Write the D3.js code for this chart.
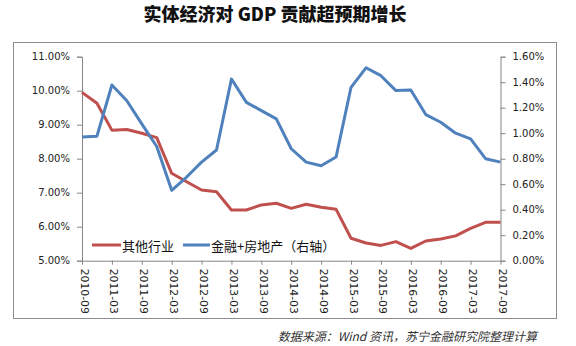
<!DOCTYPE html>
<html><head><meta charset="utf-8">
<script src="https://cdn.jsdelivr.net/npm/d3@7"></script>
<style>
html,body{margin:0;padding:0;background:#fff;}
svg{display:block;}
</style></head>
<body>
<svg id="c" width="576" height="346"></svg>
<script>
const categories = ["2010-09","2010-12","2011-03","2011-06","2011-09","2011-12","2012-03","2012-06","2012-09","2012-12",
"2013-03","2013-06","2013-09","2013-12","2014-03","2014-06","2014-09","2014-12","2015-03","2015-06",
"2015-09","2015-12","2016-03","2016-06","2016-09","2016-12","2017-03","2017-06","2017-09"];
const tickLabels = ["2010-09","2011-03","2011-09","2012-03","2012-09","2013-03","2013-09","2014-03","2014-09","2015-03","2015-09","2016-03","2016-09","2017-03","2017-09"];
const otherIndustry = [9.95,9.63,8.84,8.86,8.75,8.62,7.57,7.32,7.08,7.03,6.49,6.49,6.64,6.69,6.54,6.66,6.57,6.51,5.66,5.52,5.45,5.56,5.36,5.58,5.64,5.73,5.95,6.13,6.13];
const financeRealEstate = [0.97,0.977,1.378,1.255,1.073,0.896,0.552,0.656,0.773,0.868,1.425,1.242,1.177,1.112,0.878,0.773,0.745,0.813,1.36,1.513,1.451,1.334,1.339,1.146,1.086,1.0,0.956,0.80,0.773];
const leftTicks = [5,6,7,8,9,10,11];
const rightTicks = [0,0.2,0.4,0.6,0.8,1.0,1.2,1.4,1.6];
const seriesNames = ["其他行业","金融+房地产（右轴）"];
const title = "实体经济对 GDP 贡献超预期增长";
const source = "数据来源：Wind 资讯，苏宁金融研究院整理计算";

const svg = d3.select("#c");
const red = "#C0504D", blue = "#4F81BD", axisColor = "#868686";
const L = 82, R = 500.5, T = 56.7, B = 260.7;
const font = "'DejaVu Sans', Verdana, sans-serif";
const cjk = "'Noto Sans CJK SC', sans-serif";

// outer border
svg.append("rect").attr("x",13.5).attr("y",42.5).attr("width",543).attr("height",276)
  .attr("fill","none").attr("stroke","#8c8c8c").attr("stroke-width",1);

// title
svg.append("text").attr("x",275).attr("y",21).attr("text-anchor","middle")
  .attr("font-family",cjk).attr("font-weight",900).attr("font-size",18).attr("fill","#111")
  .text(title);

const x = d3.scalePoint().domain(categories).range([L, R]);
const yL = d3.scaleLinear().domain([5,11]).range([B,T]);
const yR = d3.scaleLinear().domain([0,1.6]).range([B,T]);

const fmt = v => d3.format(".2f")(v) + "%";

const gL = svg.append("g").attr("transform",`translate(${L},0)`)
  .call(d3.axisLeft(yL).tickValues(leftTicks).tickFormat(fmt).tickSize(5).tickPadding(7));
const gR = svg.append("g").attr("transform",`translate(${R},0)`)
  .call(d3.axisRight(yR).tickValues(rightTicks).tickFormat(fmt).tickSize(5).tickPadding(7));
const gX = svg.append("g").attr("transform",`translate(0,${B})`)
  .call(d3.axisBottom(x).tickValues(tickLabels).tickSize(4).tickPadding(4));

[gL,gR,gX].forEach(g=>{
  g.select(".domain").attr("stroke",axisColor).attr("stroke-width",1);
  g.selectAll(".tick line").attr("stroke",axisColor);
  g.selectAll("text").attr("font-family",font).attr("font-size",10).attr("fill","#222");
});
gX.selectAll(".domain").attr("d",`M${L},0.5H${R}`);
gX.selectAll(".tick text")
  .attr("transform","rotate(90)")
  .attr("text-anchor","start")
  .attr("dominant-baseline","central")
  .attr("font-size",10.8)
  .attr("x",8).attr("y",-1.5).attr("dy",null);

const lineL = d3.line().x((d,i)=>x(categories[i])).y(d=>yL(d));
const lineR = d3.line().x((d,i)=>x(categories[i])).y(d=>yR(d));

svg.append("path").datum(otherIndustry).attr("d",lineL)
  .attr("fill","none").attr("stroke",red).attr("stroke-width",3).attr("stroke-linejoin","round");
svg.append("path").datum(financeRealEstate).attr("d",lineR)
  .attr("fill","none").attr("stroke",blue).attr("stroke-width",3).attr("stroke-linejoin","round");

// legend
const lg = svg.append("g");
const legendItems = [{name:seriesNames[0],color:red,x0:92,x1:121,tx:122},
                     {name:seriesNames[1],color:blue,x0:183,x1:210,tx:211}];
legendItems.forEach(it=>{
  lg.append("line").attr("x1",it.x0).attr("x2",it.x1).attr("y1",245).attr("y2",245)
    .attr("stroke",it.color).attr("stroke-width",3);
  lg.append("text").attr("x",it.tx).attr("y",245).attr("dominant-baseline","central")
    .attr("font-family",cjk).attr("font-size",13).attr("fill","#111").text(it.name);
});

// source
svg.append("text").attr("x",537).attr("y",341).attr("text-anchor","end")
  .attr("font-family",cjk).attr("font-style","italic").attr("font-size",12).attr("fill","#333")
  .text(source);
</script>
</body></html>
